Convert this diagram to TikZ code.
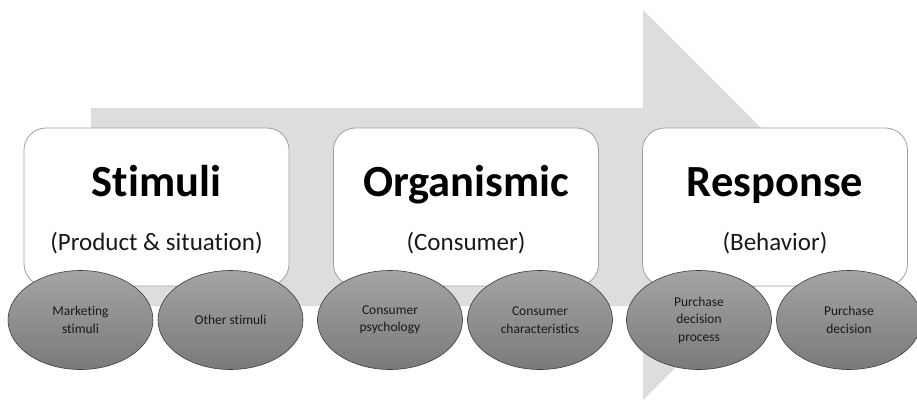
\documentclass[tikz,border=0pt]{standalone}
\usepackage{fontspec}
\setmainfont[Ligatures=CommonOff]{Carlito}
\usetikzlibrary{shapes.geometric}
\definecolor{arrowgray}{HTML}{DDDDDD}
\definecolor{boxline}{HTML}{A0A0A0}
\definecolor{ovaltop}{HTML}{A4A4A4}
\definecolor{ovalbot}{HTML}{7A7A7A}
\definecolor{ovalline}{HTML}{3C3C3C}
\begin{document}
\begin{tikzpicture}[x=1pt,y=-1pt,
  stage/.style={draw=boxline,line width=0.8pt,fill=white,rounded corners=22pt,
    minimum width=265pt,minimum height=158pt,inner sep=0pt},
  title/.style={anchor=base,font=\fontsize{44.5}{48}\selectfont\bfseries,text=black},
  subtitle/.style={anchor=base,font=\fontsize{25}{28}\selectfont,text=black!90},
  oval/.style={ellipse,draw=ovalline,line width=0.6pt,top color=ovaltop,bottom color=ovalbot,
    minimum width=145pt,minimum height=99pt,inner sep=0pt,align=center,
    font=\fontsize{13.5}{17.5}\selectfont,text=black!90}]
\useasboundingbox (0,0) rectangle (917,404);
% big process arrow in the background
\fill[arrowgray] (91,108) -- (643,108) -- (643,10) -- (838,205) -- (643,400)
  -- (643,306) -- (91,306) -- cycle;
% three stage boxes
\node[stage] (stim) at (156.5,207) {};
\node[stage] (org) at (466,207) {};
\node[stage] (resp) at (775,207) {};
\node[title] (stimT) at (156.5,196) {Stimuli};
\node[subtitle] (stimS) at (156.5,250) {(Product \& situation)};
\node[title] (orgT) at (466,196) {Organismic};
\node[subtitle] (orgS) at (466,250) {(Consumer)};
\node[title] (respT) at (775,196) {Response};
\node[subtitle] (respS) at (775,250) {(Behavior)};
% detail ovals below each stage
\node[oval] (o1) at (80.5,320) {Marketing\\stimuli};
\node[oval] (o2) at (230.5,320) {Other stimuli};
\node[oval] (o3) at (390,320) {Consumer\\psychology};
\node[oval] (o4) at (540,320) {Consumer\\characteristics};
\node[oval] (o5) at (699,320) {Purchase\\decision\\process};
\node[oval] (o6) at (849,320) {Purchase\\decision};
\end{tikzpicture}
\end{document}
